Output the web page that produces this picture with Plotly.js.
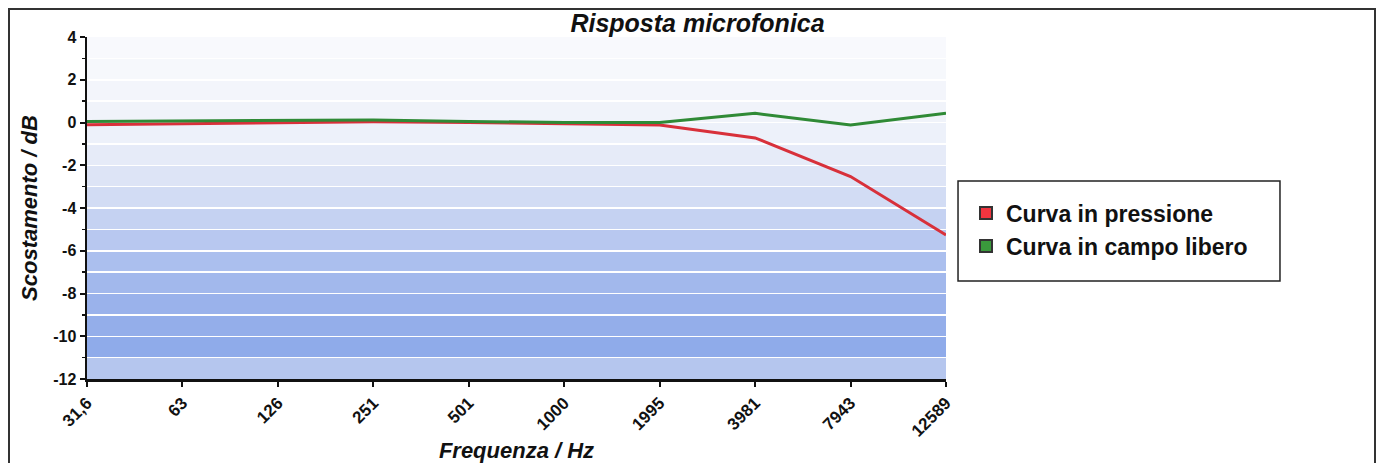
<!DOCTYPE html>
<html><head><meta charset="utf-8">
<script src="https://cdn.plot.ly/plotly-3.0.1.min.js"></script>
<style>
html,body{margin:0;padding:0;background:#fff;width:1384px;height:463px;overflow:hidden;}
#frame{position:absolute;left:8px;top:8px;width:1368px;height:470px;border:2px solid #333;box-sizing:border-box;}
#chart{position:absolute;left:0;top:0;width:1384px;height:463px;}
</style></head>
<body>
<div id="frame"></div>
<div id="chart"></div>
<script>
// Data
const frequencies = ["31,6","63","126","251","501","1000","1995","3981","7943","12589"];
const curvaPressione = [-0.1,-0.05,0.0,0.03,0.0,-0.05,-0.12,-0.72,-2.53,-5.26];
const curvaCampoLibero = [0.05,0.07,0.1,0.12,0.05,0.0,0.0,0.43,-0.12,0.43];
const seriesNames = ["Curva in pressione","Curva in campo libero"];
const yTickVals = [-12,-10,-8,-6,-4,-2,0,2,4];
const yTickText = ["-12","-10","-8","-6","-4","-2","0","2","4"];

const FONT = "Liberation Sans, Arial, sans-serif";
const RED = "#d8303a", GREEN = "#2f8a36";

// background bands (style only)
const bandColors = {
  4:"#f8f9fd",3:"#f6f8fc",2:"#f3f5fb",1:"#f0f3fa",0:"#edf1fa",
  "-1":"#e6ebf8","-2":"#dde4f6","-3":"#d2dcf4","-4":"#c5d2f2","-5":"#b8c8f0",
  "-6":"#abbfee","-7":"#a2b8ec","-8":"#9ab2eb","-9":"#94aeea","-10":"#8fabea","-11":"#b5c6ee"
};
const shapes = [];
for (let y = 4; y > -12; y--) {
  shapes.push({type:"rect", xref:"paper", yref:"y", x0:0, x1:1, y0:y-1, y1:y,
    fillcolor:bandColors[y], line:{width:0}, layer:"below"});
}
// legend frame
shapes.push({type:"rect", xref:"paper", yref:"paper", x0:1.014, x1:1.3888, y0:0.2865, y1:0.5789,
  fillcolor:"rgba(0,0,0,0)", line:{color:"#222", width:1.5}, layer:"above"});

const traces = [
  {x:frequencies, y:curvaPressione, type:"scatter", mode:"lines", name:seriesNames[0],
   line:{color:RED, width:3}, showlegend:false, hoverinfo:"skip"},
  {x:frequencies, y:curvaCampoLibero, type:"scatter", mode:"lines", name:seriesNames[1],
   line:{color:GREEN, width:3}, showlegend:false, hoverinfo:"skip"},
  {x:[null], y:[null], type:"scatter", mode:"markers", name:seriesNames[0],
   marker:{symbol:"square", size:13, color:"#f0353f", line:{color:"#333", width:2}}},
  {x:[null], y:[null], type:"scatter", mode:"markers", name:seriesNames[1],
   marker:{symbol:"square", size:13, color:"#3a9a3c", line:{color:"#333", width:2}}}
];

const layout = {
  width:1384, height:463,
  margin:{l:87, r:438, t:37, b:84},
  paper_bgcolor:"rgba(0,0,0,0)", plot_bgcolor:"#ffffff",
  font:{family:FONT, color:"#111"},
  title:{text:"Risposta microfonica", font:{family:FONT, size:25, weight:"bold", style:"italic", color:"#111"},
    xref:"container", x:0.504, xanchor:"center", yref:"container", y:0.95, yanchor:"middle"},
  xaxis:{type:"category", range:[0,9], showgrid:false, zeroline:false,
    showline:true, linecolor:"#111", linewidth:2.5,
    ticks:"outside", ticklen:5, tickwidth:2, tickcolor:"#111",
    tickangle:-45, tickfont:{family:FONT, size:17, weight:"bold", color:"#111"},
    title:{text:"Frequenza / Hz", font:{family:FONT, size:22, weight:"bold", style:"italic", color:"#111"}, standoff:5},
    automargin:false},
  yaxis:{range:[-12,4], tickvals:yTickVals, ticktext:yTickText, showgrid:true, gridcolor:"#ffffff", gridwidth:1.5, zeroline:false,
    showline:true, linecolor:"#111", linewidth:2.5,
    ticks:"outside", ticklen:5, tickwidth:2, tickcolor:"#111",
    minor:{dtick:1, ticks:"outside", ticklen:3, tickwidth:1.5, tickcolor:"#111", showgrid:true, gridcolor:"#ffffff", gridwidth:1.5},
    tickfont:{family:FONT, size:16, weight:"bold", color:"#111"},
    title:{text:"Scostamento / dB", font:{family:FONT, size:22, weight:"bold", style:"italic", color:"#111"}, standoff:10},
    automargin:false},
  legend:{x:1.0233, xanchor:"left", y:0.548, yanchor:"top",
    bgcolor:"rgba(0,0,0,0)", borderwidth:0,
    font:{family:FONT, size:23, weight:"bold", color:"#111"},
    itemsizing:"constant"},
  shapes:shapes,
  showlegend:true
};

Plotly.newPlot("chart", traces, layout, {staticPlot:true, displayModeBar:false});
</script>
</body></html>
